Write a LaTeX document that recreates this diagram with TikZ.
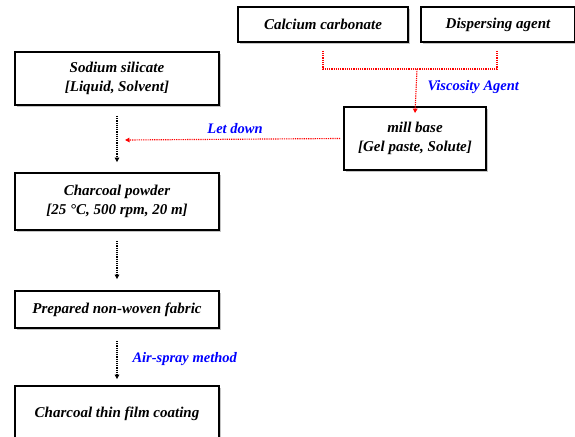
\documentclass[tikz,border=0pt]{standalone}
\usepackage{fontspec}
\setmainfont{Liberation Serif}
\usetikzlibrary{shadows,arrows.meta}
\begin{document}
\begin{tikzpicture}[x=1pt,y=-1pt,
  box/.style={draw=black,line width=1.8pt,fill=white,align=center,
    font=\bfseries\itshape\fontsize{15}{19}\selectfont,
    drop shadow={shadow xshift=2pt,shadow yshift=-2pt,fill=black!45}},
  redflow/.style={draw=red,dash pattern=on 1.2pt off 1pt,line width=1.15pt},
  blkflow/.style={draw=black,dash pattern=on 1.2pt off 1pt,line width=1.05pt},
  tip/.style={-{Triangle[length=4.5pt,width=4.5pt]}},
  lbl/.style={text=blue,font=\bfseries\itshape\fontsize{14.5}{17}\selectfont,anchor=west}]
\useasboundingbox (0,0) rectangle (575,436);
\clip (0,0) rectangle (575,436);
\fill[white] (0,0) rectangle (575,436);
\node[box,minimum width=170pt,minimum height=35pt] (ca) at (323,24.5) {Calcium carbonate};
\node[box,minimum width=154pt,minimum height=35pt] (da) at (498,24.5) {Dispersing agent};
\node[box,minimum width=204pt,minimum height=53pt] (ss) at (117,78.5) {Sodium silicate\\{}[Liquid, Solvent]};
\node[box,minimum width=142pt,minimum height=63pt] (mb) at (415,138.5) {mill base\\{}[Gel paste, Solute]};
\node[box,minimum width=204pt,minimum height=57pt] (cp) at (117,201.5) {Charcoal powder\\{}[25 °C, 500 rpm, 20 m]};
\node[box,minimum width=204pt,minimum height=37pt] (nw) at (117,309.5) {Prepared non-woven fabric};
\node[box,minimum width=204pt,minimum height=56pt] (tf) at (117,414) {Charcoal thin film coating};
\coordinate (j) at (417,69);
\draw[redflow] ([yshift=-8pt]ca.south) |- (j);
\draw[redflow] ([xshift=-1pt,yshift=-8pt]da.south) |- (j);
\draw[redflow,tip] (j) -- ([yshift=-7pt]mb.north);
\node[lbl] at (424,87) {Viscosity Agent};
\coordinate (ld) at (125,140);
\draw[redflow,tip] ([xshift=-3pt]mb.west) -- (ld);
\node[lbl,anchor=center] at (235,129) {Let down};
\draw[blkflow,tip] ([yshift=-10pt]ss.south) -- ([yshift=10pt]cp.north);
\draw[blkflow,tip] ([yshift=-10pt]cp.south) -- ([yshift=11pt]nw.north);
\draw[blkflow,tip] ([yshift=-12pt]nw.south) -- ([yshift=6pt]tf.north);
\node[lbl] at (129,359) {Air-spray method};
\end{tikzpicture}
\end{document}
